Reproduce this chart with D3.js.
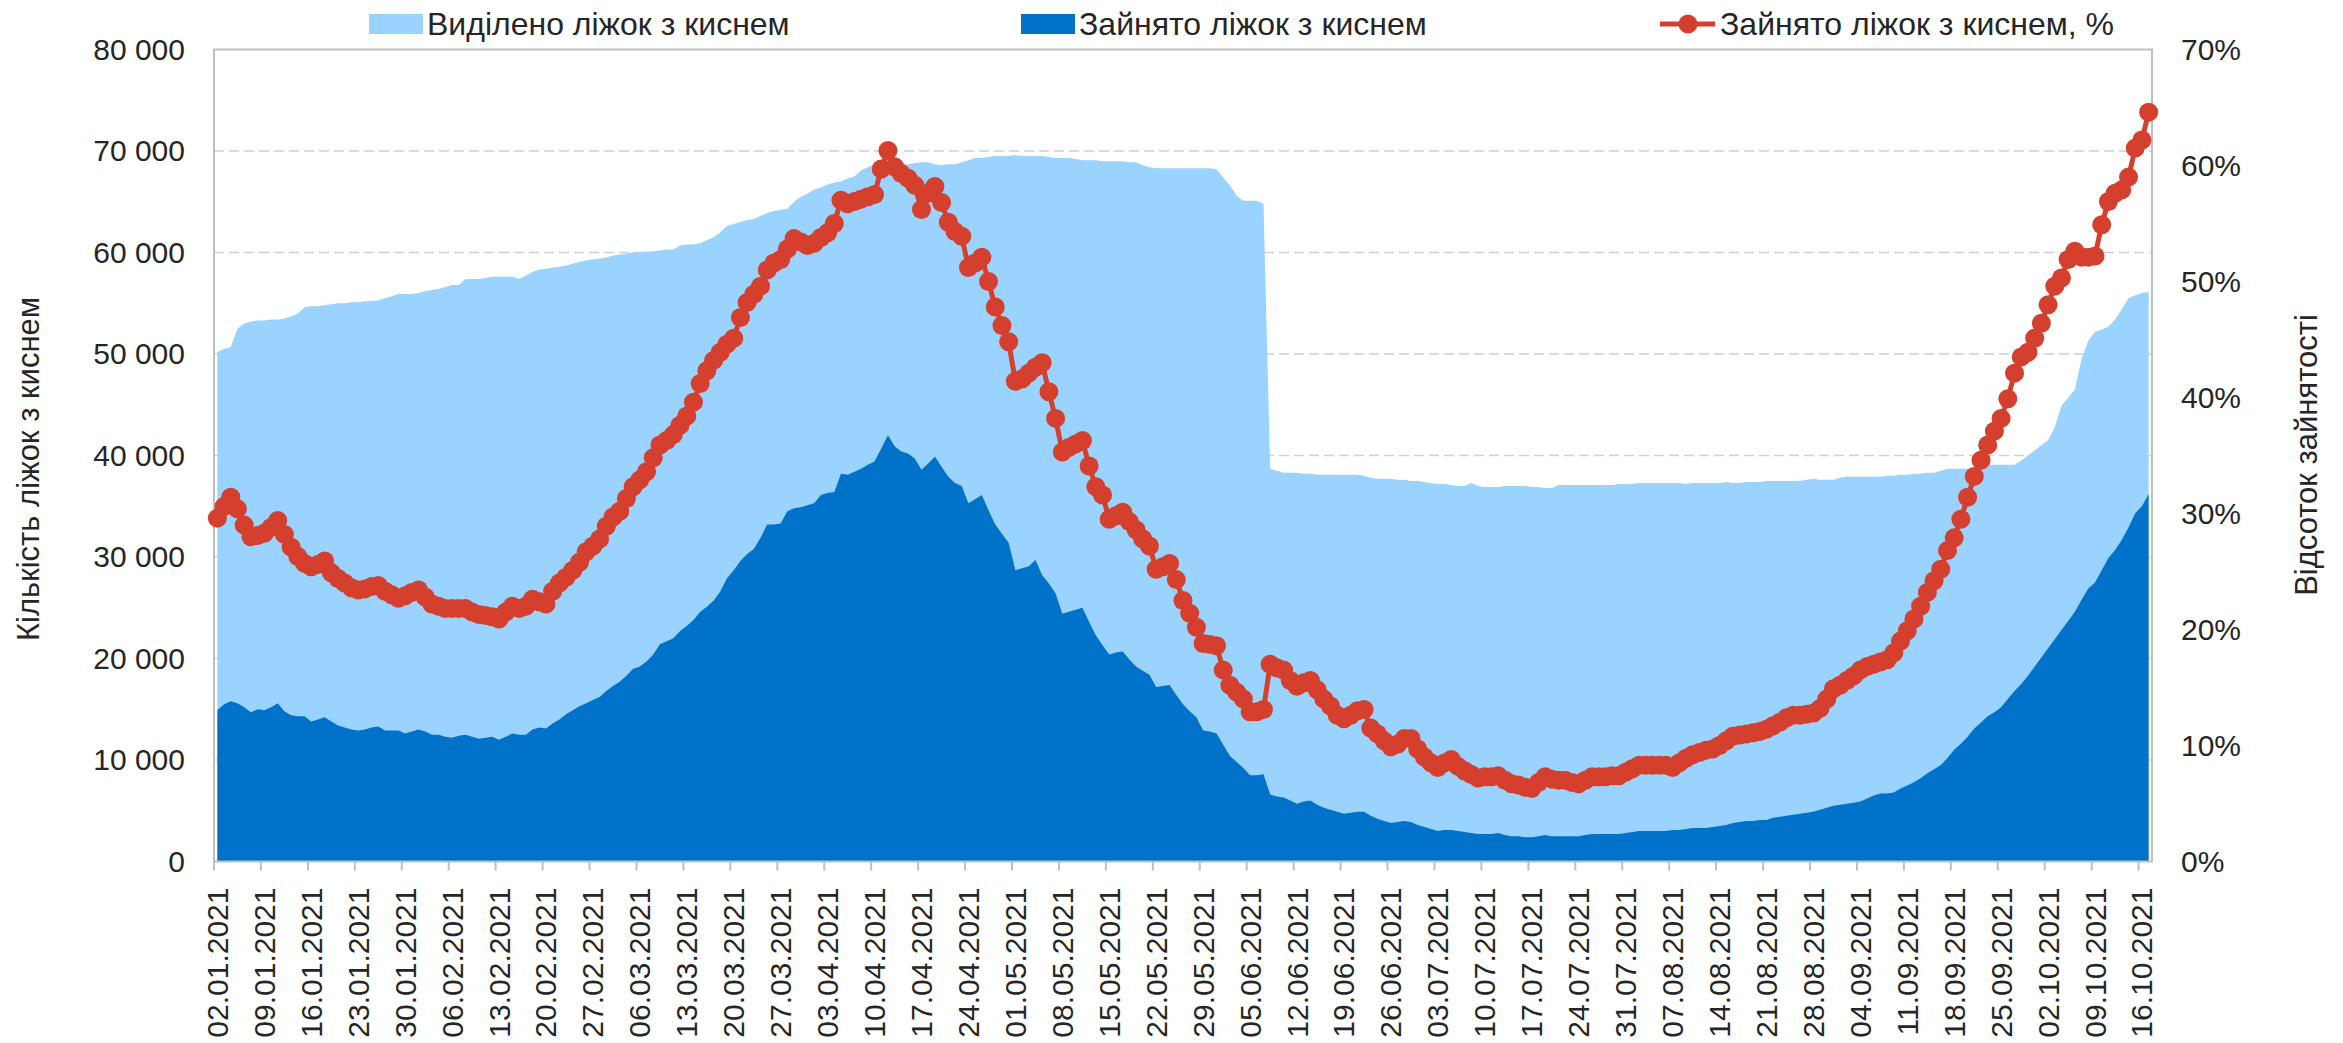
<!DOCTYPE html>
<html>
<head>
<meta charset="utf-8">
<script src="https://cdn.jsdelivr.net/npm/d3@7"></script>
<style>
  body { margin: 0; background: #fff; }
  svg { display: block; }
  text { font-family: "Liberation Sans", Arial, sans-serif; fill: #262626; }
</style>
</head>
<body>
<svg id="chart" width="2343" height="1043"></svg>
<script>
const startDate = new Date(2021, 0, 2);

const seriesNames = ['Виділено ліжок з киснем', 'Зайнято ліжок з киснем', 'Зайнято ліжок з киснем, %'];
const leftTitle = 'Кількість ліжок з киснем';
const rightTitle = 'Відсоток зайнятості';

const leftTicks = [0, 10000, 20000, 30000, 40000, 50000, 60000, 70000, 80000];
const rightTicks = [0, 10, 20, 30, 40, 50, 60, 70];

// daily values, 02.01.2021 .. 17.10.2021
const allocated = [
  50200,50500,50700,52500,53000,53200,53300,53300,53400,53400,
  53500,53700,54000,54600,54700,54700,54800,54900,55000,55000,
  55100,55100,55200,55200,55300,55500,55700,55900,55900,55900,
  56000,56200,56300,56400,56600,56800,56800,57400,57400,57400,
  57500,57600,57600,57600,57600,57400,57700,58100,58300,58400,
  58500,58600,58700,58900,59100,59200,59300,59400,59500,59700,
  59800,59900,60000,60000,60100,60100,60200,60300,60300,60700,
  60800,60800,60900,61200,61500,62000,62600,62800,63000,63200,
  63300,63600,63900,64100,64200,64300,65000,65500,65800,66200,
  66400,66700,66900,67000,67300,67500,68100,68400,68700,68800,
  69000,68900,68700,68700,68800,68900,68900,68700,68600,68700,
  68700,68900,69100,69300,69300,69400,69500,69500,69500,69600,
  69500,69500,69500,69500,69400,69300,69300,69300,69200,69100,
  69100,69100,69000,69000,69000,69000,68900,68900,68600,68400,
  68300,68300,68300,68300,68300,68300,68300,68300,68300,68200,
  67400,66600,65600,65100,65100,65100,64800,38700,38500,38300,
  38300,38300,38200,38200,38100,38100,38100,38100,38100,38100,
  38100,38000,37800,37700,37700,37700,37600,37600,37500,37500,
  37400,37300,37200,37200,37100,37000,37000,37300,37000,36900,
  36900,36900,37000,37000,37000,37000,36900,36900,36800,36800,
  37100,37100,37100,37100,37100,37100,37100,37100,37100,37200,
  37200,37200,37300,37300,37300,37300,37300,37300,37300,37200,
  37300,37300,37300,37300,37300,37400,37300,37300,37400,37400,
  37400,37500,37500,37500,37500,37500,37500,37600,37700,37600,
  37600,37600,37800,37900,37900,37900,37900,37900,37900,38000,
  38000,38100,38100,38200,38200,38300,38300,38500,38700,38700,
  38700,38700,38800,39000,39100,39100,39100,39100,39100,39500,
  40000,40500,41000,41500,42800,44900,45700,46500,49500,51300,
  52200,52400,52700,53400,54400,55500,55800,56000,56100
];

const occupied = [
  14900,15500,15800,15600,15200,14700,15000,14900,15200,15600,
  14800,14400,14300,14300,13800,14000,14200,13800,13400,13200,
  13000,12900,13000,13200,13300,12900,12900,12900,12600,12800,
  13000,12800,12500,12500,12300,12200,12400,12500,12300,12100,
  12200,12300,12000,12300,12600,12500,12500,13000,13200,13100,
  13600,14000,14500,14900,15300,15600,15900,16200,16800,17300,
  17700,18300,19000,19200,19700,20400,21400,21700,22000,22700,
  23200,23800,24600,25100,25700,26600,27900,28700,29600,30300,
  30800,31900,33200,33200,33300,34500,34800,34900,35100,35300,
  36100,36300,36400,38200,38100,38400,38700,39100,39400,40700,
  42000,40900,40400,40200,39700,38600,39200,39900,38900,37900,
  37300,37000,35300,35700,36100,34600,33200,32300,31400,28700,
  28900,29100,29700,28200,27400,26400,24400,24600,24800,25000,
  23600,22300,21300,20400,20600,20700,19900,19200,18800,18400,
  17200,17300,17400,16400,15500,14800,14200,12900,12800,12600,
  11500,10400,9800,9200,8500,8500,8600,6600,6400,6300,
  6000,5700,5900,6000,5600,5300,5100,4900,4700,4800,
  4900,4900,4500,4200,4000,3800,3900,4000,3900,3600,
  3400,3200,3000,3100,3100,3000,2900,2800,2700,2700,
  2700,2800,2600,2500,2500,2400,2400,2500,2600,2500,
  2500,2500,2500,2500,2600,2700,2700,2700,2700,2700,
  2800,2900,3000,3000,3000,3000,3000,3100,3100,3200,
  3300,3300,3300,3400,3500,3600,3800,3900,4000,4000,
  4100,4100,4300,4400,4500,4600,4700,4800,4900,5100,
  5300,5500,5600,5700,5800,5900,6200,6500,6700,6700,
  6800,7200,7500,7800,8200,8700,9100,9500,10200,11000,
  11600,12300,13100,13700,14300,14700,15200,16000,16800,17500,
  18300,19200,20100,21000,21900,22800,23700,24600,25800,26900,
  27500,28700,29900,30700,31700,32900,34300,35000,36200
];

const occupiedPct = [
  29.6,30.6,31.4,30.4,29.0,28.0,28.1,28.3,28.8,29.4,
  28.2,27.1,26.3,25.7,25.4,25.6,25.9,24.9,24.4,24.0,
  23.6,23.4,23.5,23.7,23.8,23.3,23.0,22.7,22.9,23.2,
  23.4,22.8,22.2,22.0,21.8,21.8,21.8,21.8,21.5,21.3,
  21.2,21.1,20.9,21.5,22.0,21.8,22.0,22.6,22.4,22.2,
  23.3,24.0,24.5,25.1,25.8,26.7,27.2,27.8,28.9,29.7,
  30.2,31.3,32.3,32.9,33.6,34.8,35.9,36.3,36.8,37.6,
  38.4,39.6,41.2,42.3,43.2,43.9,44.6,45.1,46.9,48.2,
  48.9,49.6,51.0,51.6,51.9,52.8,53.7,53.4,53.1,53.3,
  53.8,54.2,55.0,57.0,56.7,56.9,57.1,57.3,57.5,59.7,
  61.3,59.9,59.3,58.9,58.3,56.2,57.6,58.2,56.8,55.1,
  54.3,53.9,51.2,51.6,52.1,50.0,47.8,46.2,44.8,41.4,
  41.6,42.1,42.6,43.0,40.5,38.2,35.3,35.7,36.0,36.3,
  34.1,32.3,31.6,29.5,29.8,30.1,29.3,28.6,27.8,27.2,
  25.2,25.4,25.7,24.3,22.5,21.4,20.2,18.8,18.7,18.6,
  16.5,15.2,14.6,14.0,12.9,12.9,13.1,17.0,16.7,16.5,
  15.6,15.1,15.4,15.6,14.8,14.0,13.4,12.6,12.3,12.6,
  13.0,13.1,11.5,11.0,10.4,9.9,10.1,10.6,10.6,9.7,
  9.0,8.5,8.1,8.5,8.8,8.2,7.8,7.5,7.2,7.3,
  7.3,7.4,7.0,6.7,6.6,6.4,6.3,6.8,7.3,7.1,
  7.0,7.0,6.8,6.7,7.0,7.3,7.3,7.3,7.4,7.4,
  7.7,8.0,8.3,8.3,8.3,8.3,8.3,8.1,8.5,8.9,
  9.2,9.4,9.6,9.7,10.0,10.4,10.8,10.9,11.0,11.1,
  11.2,11.4,11.7,12.0,12.4,12.6,12.6,12.7,12.8,13.2,
  14.0,14.9,15.2,15.6,16.0,16.5,16.8,17.0,17.2,17.4,
  18.0,19.0,19.9,20.9,22.0,23.2,24.2,25.2,26.8,27.9,
  29.5,31.4,33.2,34.6,35.9,37.1,38.2,39.9,42.1,43.5,
  43.9,45.1,46.4,48.0,49.6,50.3,51.9,52.6,52.1,52.1,
  52.2,54.9,56.9,57.6,57.9,59.0,61.5,62.2,64.6
];

const colors = {
  allocated: '#99d3fe',
  occupied: '#0072c9',
  pct: '#d43f2e',
  grid: '#d0d0d0',
  axis: '#bfbfbf'
};

const plot = { left: 214, right: 2152, top: 49.5, bottom: 861.5 };

const dates = allocated.map((d, i) => d3.timeDay.offset(startDate, i));
const fmtDate = d3.timeFormat('%d.%m.%Y');

const svg = d3.select('#chart');

const x = d3.scaleBand()
  .domain(d3.range(dates.length))
  .range([plot.left, plot.right])
  .padding(0);
const cx = i => x(i) + x.bandwidth() / 2;

const yLeft = d3.scaleLinear().domain([0, 80000]).range([plot.bottom, plot.top]);
const yRight = d3.scaleLinear().domain([0, 70]).range([plot.bottom, plot.top]);

// gridlines
svg.append('g')
  .selectAll('line')
  .data(leftTicks.filter(t => t > 0 && t < 80000))
  .enter().append('line')
  .attr('x1', plot.left).attr('x2', plot.right)
  .attr('y1', d => yLeft(d)).attr('y2', d => yLeft(d))
  .attr('stroke', colors.grid)
  .attr('stroke-width', 1.5)
  .attr('stroke-dasharray', '10,5');

// areas
const areaOf = values => d3.area()
  .x((d, i) => cx(i))
  .y0(yLeft(0))
  .y1(d => yLeft(d))(values);

svg.append('path').attr('d', areaOf(allocated)).attr('fill', colors.allocated);
svg.append('path').attr('d', areaOf(occupied)).attr('fill', colors.occupied);

// frame
svg.append('rect')
  .attr('x', plot.left).attr('y', plot.top)
  .attr('width', plot.right - plot.left)
  .attr('height', plot.bottom - plot.top)
  .attr('fill', 'none')
  .attr('stroke', colors.axis)
  .attr('stroke-width', 2);

// percent line with markers
const pctLine = d3.line()
  .x((d, i) => cx(i))
  .y(d => yRight(d));

svg.append('path')
  .attr('d', pctLine(occupiedPct))
  .attr('fill', 'none')
  .attr('stroke', colors.pct)
  .attr('stroke-width', 5)
  .attr('stroke-linejoin', 'round');

svg.append('g')
  .selectAll('circle')
  .data(occupiedPct)
  .enter().append('circle')
  .attr('cx', (d, i) => cx(i))
  .attr('cy', d => yRight(d))
  .attr('r', 9.5)
  .attr('fill', colors.pct);

// left axis
const spaced = d3.format(',');
const leftAxis = svg.append('g')
  .attr('transform', `translate(${plot.left},0)`)
  .call(d3.axisLeft(yLeft).tickValues(leftTicks).tickSize(0).tickPadding(29)
    .tickFormat(d => spaced(d).replace(/,/g, ' ')));
leftAxis.select('.domain').remove();
leftAxis.selectAll('text').attr('font-size', 30);

// right axis
const rightAxis = svg.append('g')
  .attr('transform', `translate(${plot.right},0)`)
  .call(d3.axisRight(yRight).tickValues(rightTicks).tickSize(0).tickPadding(29)
    .tickFormat(d => d + '%'));
rightAxis.select('.domain').remove();
rightAxis.selectAll('text').attr('font-size', 30);

// bottom axis: ticks at the start of every 7th day, labels at the day centre
const weekIdx = d3.range(0, dates.length, 7);
svg.append('g')
  .selectAll('line')
  .data(weekIdx)
  .enter().append('line')
  .attr('x1', i => x(i)).attr('x2', i => x(i))
  .attr('y1', plot.bottom).attr('y2', plot.bottom + 9)
  .attr('stroke', colors.axis)
  .attr('stroke-width', 2);

const bottomAxis = svg.append('g')
  .attr('transform', `translate(0,${plot.bottom})`)
  .call(d3.axisBottom(x).tickValues(weekIdx).tickSize(0)
    .tickFormat(i => fmtDate(dates[i])));
bottomAxis.select('.domain').remove();
bottomAxis.selectAll('text')
  .attr('font-size', 30)
  .attr('transform', 'rotate(-90)')
  .attr('x', -26)
  .attr('y', 0)
  .attr('dy', '0.35em')
  .style('text-anchor', 'end');

svg.selectAll('.tick text').attr('fill', '#262626');

// axis titles
svg.append('text')
  .attr('transform', 'translate(28,469) rotate(-90)')
  .attr('text-anchor', 'middle')
  .attr('dy', '0.35em')
  .attr('font-size', 31)
  .text(leftTitle);

svg.append('text')
  .attr('transform', 'translate(2306,455) rotate(-90)')
  .attr('text-anchor', 'middle')
  .attr('dy', '0.35em')
  .attr('font-size', 31)
  .text(rightTitle);

// legend
const legendY = 24;
const legend = svg.append('g');

legend.append('rect').attr('x', 369).attr('y', legendY - 10).attr('width', 54).attr('height', 20).attr('fill', colors.allocated);
legend.append('text').attr('x', 427).attr('y', legendY).attr('dy', '0.35em').attr('font-size', 32).text(seriesNames[0]);

legend.append('rect').attr('x', 1021).attr('y', legendY - 10).attr('width', 54).attr('height', 20).attr('fill', colors.occupied);
legend.append('text').attr('x', 1079).attr('y', legendY).attr('dy', '0.35em').attr('font-size', 32).text(seriesNames[1]);

legend.append('line').attr('x1', 1660).attr('x2', 1715).attr('y1', legendY).attr('y2', legendY)
  .attr('stroke', colors.pct).attr('stroke-width', 5);
legend.append('circle').attr('cx', 1688).attr('cy', legendY).attr('r', 9.5).attr('fill', colors.pct);
legend.append('text').attr('x', 1720).attr('y', legendY).attr('dy', '0.35em').attr('font-size', 32).text(seriesNames[2]);
</script>
</body>
</html>
